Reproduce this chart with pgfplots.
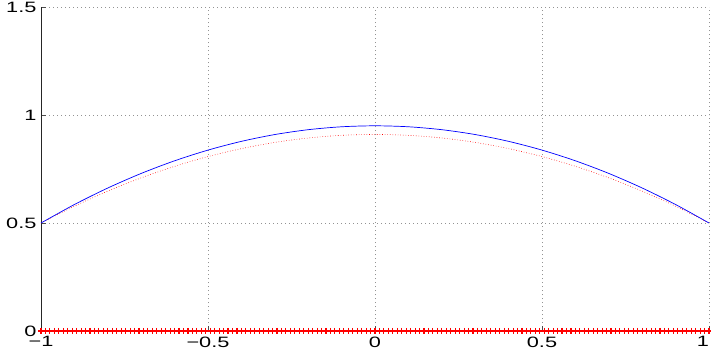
\documentclass[border=0pt]{standalone}
\usepackage{fontspec}
\setmainfont{Liberation Sans}
\newfontfamily\tickfont[FakeStretch=1.45]{Liberation Sans}
\usepackage{pgfplots}
\pgfplotsset{compat=1.18}
\begin{document}
\begin{tikzpicture}
\begin{axis}[
  set layers,
  scale only axis,
  width=668pt, height=324pt,
  xmin=-1, xmax=1, ymin=0, ymax=1.5,
  axis x line=bottom, axis y line=left,
  axis line style={-, black!85, line width=0.7pt},
  xtick={-1,-0.5,0,0.5,1},
  xticklabels={−1,−0.5,0,0.5,\makebox[0pt][r]{1}},
  ytick={0,0.5,1,1.5},
  yticklabels={0,0.5,1,1.5},
  tick align=inside,
  major tick length=5pt,
  tick style={black!70, line width=0.5pt},
  ticklabel style={font=\tickfont\fontsize{15}{16}\selectfont},
  xticklabel style={yshift=-2pt},
  yticklabel style={xshift=-1pt},
  grid=major,
  major grid style={dash pattern=on 0.8pt off 3.2pt, gray!85, line width=0.7pt},
  clip=false,
]
\addplot[red, dotted, line width=0.6pt, smooth] coordinates {
(-1,0.5) (-0.9,0.5779) (-0.8,0.6476) (-0.7,0.7091) (-0.6,0.7624) (-0.5,0.8075)
(-0.4,0.8444) (-0.3,0.8731) (-0.2,0.8936) (-0.1,0.9059) (0,0.91)
(0.1,0.9059) (0.2,0.8936) (0.3,0.8731) (0.4,0.8444) (0.5,0.8075)
(0.6,0.7624) (0.7,0.7091) (0.8,0.6476) (0.9,0.5779) (1,0.5)};
\addplot[blue, line width=0.7pt, smooth] coordinates {
(-1,0.5) (-0.9,0.5855) (-0.8,0.662) (-0.7,0.7295) (-0.6,0.788) (-0.5,0.8375)
(-0.4,0.878) (-0.3,0.9095) (-0.2,0.932) (-0.1,0.9455) (0,0.95)
(0.1,0.9455) (0.2,0.932) (0.3,0.9095) (0.4,0.878) (0.5,0.8375)
(0.6,0.788) (0.7,0.7295) (0.8,0.662) (0.9,0.5855) (1,0.5)};
\addplot[on layer=axis foreground, red, only marks, mark=+, mark size=3.2pt, line width=1.1pt] table[row sep=\\] {
x y\\
-1 0\\ -0.9867 0\\ -0.9733 0\\ -0.96 0\\ -0.9467 0\\ -0.9333 0\\ -0.92 0\\ -0.9067 0\\ -0.8933 0\\ -0.88 0\\
-0.8667 0\\ -0.8533 0\\ -0.84 0\\ -0.8267 0\\ -0.8133 0\\ -0.8 0\\ -0.7867 0\\ -0.7733 0\\ -0.76 0\\ -0.7467 0\\
-0.7333 0\\ -0.72 0\\ -0.7067 0\\ -0.6933 0\\ -0.68 0\\ -0.6667 0\\ -0.6533 0\\ -0.64 0\\ -0.6267 0\\ -0.6133 0\\
-0.6 0\\ -0.5867 0\\ -0.5733 0\\ -0.56 0\\ -0.5467 0\\ -0.5333 0\\ -0.52 0\\ -0.5067 0\\ -0.4933 0\\ -0.48 0\\
-0.4667 0\\ -0.4533 0\\ -0.44 0\\ -0.4267 0\\ -0.4133 0\\ -0.4 0\\ -0.3867 0\\ -0.3733 0\\ -0.36 0\\ -0.3467 0\\
-0.3333 0\\ -0.32 0\\ -0.3067 0\\ -0.2933 0\\ -0.28 0\\ -0.2667 0\\ -0.2533 0\\ -0.24 0\\ -0.2267 0\\ -0.2133 0\\
-0.2 0\\ -0.1867 0\\ -0.1733 0\\ -0.16 0\\ -0.1467 0\\ -0.1333 0\\ -0.12 0\\ -0.1067 0\\ -0.0933 0\\ -0.08 0\\
-0.0667 0\\ -0.0533 0\\ -0.04 0\\ -0.0267 0\\ -0.0133 0\\ 0 0\\
0.0133 0\\ 0.0267 0\\ 0.04 0\\ 0.0533 0\\ 0.0667 0\\ 0.08 0\\ 0.0933 0\\ 0.1067 0\\ 0.12 0\\ 0.1333 0\\
0.1467 0\\ 0.16 0\\ 0.1733 0\\ 0.1867 0\\ 0.2 0\\ 0.2133 0\\ 0.2267 0\\ 0.24 0\\ 0.2533 0\\ 0.2667 0\\
0.28 0\\ 0.2933 0\\ 0.3067 0\\ 0.32 0\\ 0.3333 0\\ 0.3467 0\\ 0.36 0\\ 0.3733 0\\ 0.3867 0\\ 0.4 0\\
0.4133 0\\ 0.4267 0\\ 0.44 0\\ 0.4533 0\\ 0.4667 0\\ 0.48 0\\ 0.4933 0\\ 0.5067 0\\ 0.52 0\\ 0.5333 0\\
0.5467 0\\ 0.56 0\\ 0.5733 0\\ 0.5867 0\\ 0.6 0\\ 0.6133 0\\ 0.6267 0\\ 0.64 0\\ 0.6533 0\\ 0.6667 0\\
0.68 0\\ 0.6933 0\\ 0.7067 0\\ 0.72 0\\ 0.7333 0\\ 0.7467 0\\ 0.76 0\\ 0.7733 0\\ 0.7867 0\\ 0.8 0\\
0.8133 0\\ 0.8267 0\\ 0.84 0\\ 0.8533 0\\ 0.8667 0\\ 0.88 0\\ 0.8933 0\\ 0.9067 0\\ 0.92 0\\ 0.9333 0\\
0.9467 0\\ 0.96 0\\ 0.9733 0\\ 0.9867 0\\ 1 0\\
};
\end{axis}
\pgfresetboundingbox
\path ([xshift=-41pt,yshift=-23pt]current axis.south west) rectangle ([xshift=2pt,yshift=7pt]current axis.north east);
\end{tikzpicture}
\end{document}
